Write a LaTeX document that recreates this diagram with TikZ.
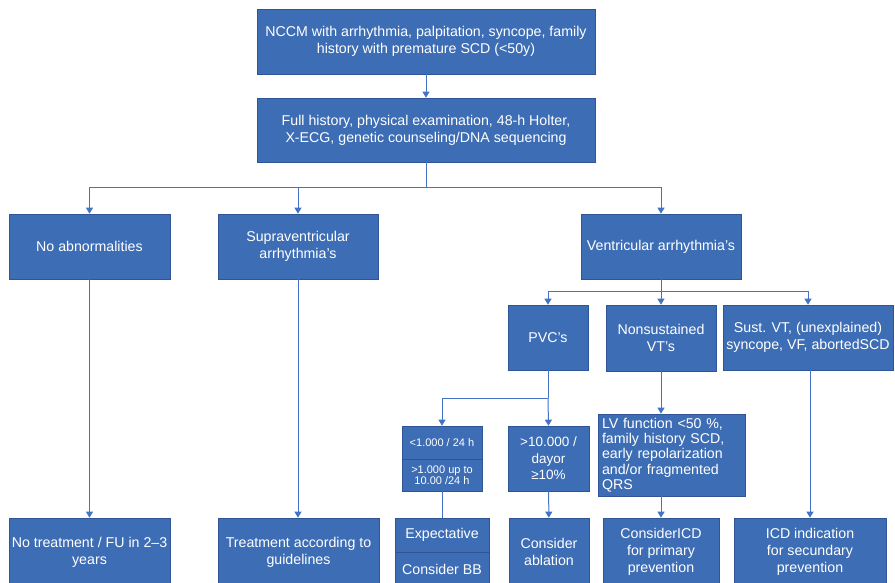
\documentclass[tikz,border=0pt]{standalone}
\usepackage{fontspec}
\setmainfont{Liberation Sans}
\usetikzlibrary{arrows.meta}
\definecolor{boxfill}{HTML}{3D6DB4}
\definecolor{boxline}{HTML}{2F5597}
\definecolor{linkcol}{HTML}{4472C4}
\begin{document}
\begin{tikzpicture}[x=1pt,y=-1pt,
    box/.style={draw=boxline, fill=boxfill, text=white, line width=0.6pt,
      align=center, inner sep=2pt, font=\fontsize{14.2}{17}\selectfont},
    link/.style={draw=linkcol, line width=1pt},
    arr/.style={link, -{Triangle[width=7pt,length=6pt]}}]
    \clip (0,0) rectangle (895,583);
    \useasboundingbox (0,0) rectangle (895,583);

    % First two rows
    \node[box, minimum width=338, minimum height=65] (start) at (426,41.5)
      {NCCM with arrhythmia, palpitation, syncope, family\\history with premature SCD (<50y)};
    \node[box, minimum width=338, minimum height=64] (full) at (426,130)
      {Full history, physical examination, 48-h Holter,\\X-ECG, genetic counseling/DNA sequencing};

    % Third row
    \node[box, minimum width=161, minimum height=65] (noab) at (89.5,246.5) {No abnormalities};
    \node[box, minimum width=160, minimum height=65] (supra) at (298,246.5) {Supraventricular\\arrhythmia's};
    \node[box, minimum width=160, minimum height=65] (vent) at (661,246.5) {Ventricular arrhythmia's};

    % Ventricular branches
    \node[box, minimum width=80, minimum height=65] (pvc) at (548,337.5) {PVC's};
    \node[box, minimum width=110, minimum height=66] (nonsus) at (661,338) {Nonsustained\\VT's};
    \node[box, minimum width=170, minimum height=65, inner sep=0pt] (sust) at (808,337.5)
      {Sust. VT, (unexplained)\\syncope, VF, abortedSCD};

    % PVC branches
    \node[box, minimum width=80, minimum height=33, font=\fontsize{11}{11.5}\selectfont] (low) at (442,442.5) {<1.000 / 24 h};
    \node[box, minimum width=80, minimum height=32, font=\fontsize{11}{11.5}\selectfont] (mid) at (442,475) {>1.000 up to\\10.00 /24 h};
    \node[box, minimum width=81, minimum height=65, font=\fontsize{13.5}{16.5}\selectfont] (high) at (548.5,458.5) {>10.000 /\\dayor\\≥10\%};
    \node[box, minimum width=147, minimum height=82, align=left, text width=139, inner sep=4pt,
      font=\fontsize{14.2}{15.2}\selectfont] (lv) at (671.5,455)
      {LV function <50 \%,\\family history SCD,\\early repolarization\\and/or fragmented\\QRS};

    % Bottom row
    \node[box, minimum width=161, minimum height=68, inner sep=0pt] (notreat) at (89.5,552) {No treatment / FU in 2--3\\years};
    \node[box, minimum width=161, minimum height=68] (treat) at (298.5,552) {Treatment according to\\guidelines};
    \node[box, minimum width=94, minimum height=34] (expect) at (442,535) {Expectative};
    \node[box, minimum width=94, minimum height=34] (bb) at (442,569) {Consider BB};
    \node[box, minimum width=80, minimum height=68] (ablation) at (549,552) {Consider\\ablation};
    \node[box, minimum width=116, minimum height=68] (icdprim) at (661,552) {ConsiderICD\\for primary\\prevention};
    \node[box, minimum width=152, minimum height=68] (icdsec) at (810,552) {ICD indication\\for secundary\\prevention};

    % Branch points
    \coordinate (fork1) at (426,188);
    \coordinate (fork2) at (661,291);
    \coordinate (fork3) at (548,398);

    % Connectors
    \draw[arr] (start) -- (full);
    \draw[link] (full.south) -- (fork1);
    \draw[arr] (fork1) -| (noab.north);
    \draw[arr] (fork1) -| (supra.north);
    \draw[arr] (fork1) -| (vent.north);

    \draw[link] (vent.south) -- (fork2);
    \draw[arr] (fork2) -| (pvc.north);
    \draw[arr] (fork2) -- (nonsus.north);
    \draw[arr] (fork2) -| (sust.north);

    \draw[link] (pvc.south) -- (fork3);
    \draw[arr] (fork3) -| (low.north);
    \draw[arr] (fork3) -- (high.north);
    \draw[arr] (nonsus.south) -- (nonsus.south |- lv.north);

    \draw[arr] (noab) -- (notreat);
    \draw[arr] (supra.south) -- (supra.south |- treat.north);
    \draw[link] (mid) -- (expect);
    \draw[arr] (high) -- (ablation);
    \draw[arr] (lv.south -| icdprim.north) -- (icdprim.north);
    \draw[arr] (sust.south -| icdsec.north) -- (icdsec.north);
\end{tikzpicture}
\end{document}
